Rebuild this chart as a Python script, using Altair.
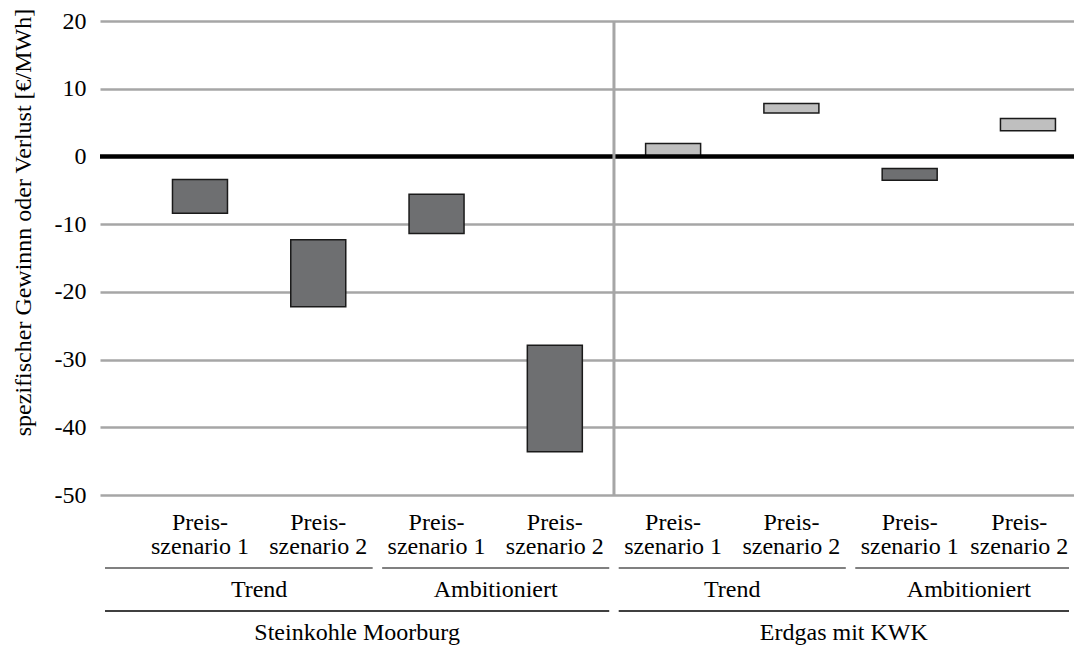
import altair as alt
import pandas as pd

# ---- data ----
kraftwerke = ["Steinkohle Moorburg", "Erdgas mit KWK"]
szenarien = ["Trend", "Ambitioniert"]
preis_zeile1 = ["Preis-", "Preis-"]
preis_zeile2 = ["szenario 1", "szenario 2"]
oben = [-3.4, -12.3, -5.6, -27.9, 1.9, 7.8, -1.8, 5.6]
unten = [-8.4, -22.2, -11.4, -43.6, 0.0, 6.4, -3.5, 3.8]
y_ticks = [-50, -40, -30, -20, -10, 0, 10, 20]
y_title = "spezifischer Gewinnn oder Verlust [€/MWh]"

FONT = "Liberation Serif"
FS = 24
XMIN, XMAX = -0.803, 7.347
GAP = 0.04
HALF_LABEL = 0.42  # half width of a category label, in category units

rows = []
for i in range(8):
    kw = i // 4
    sz = (i // 2) % 2
    ps = i % 2
    rows.append({
        "pos": i,
        "lx": min(i, XMAX - HALF_LABEL),
        "kraftwerk": kraftwerke[kw],
        "szenario": szenarien[sz],
        "z1": preis_zeile1[ps],
        "z2": preis_zeile2[ps],
        "oben": oben[i],
        "unten": unten[i],
        "art": "Verlust" if oben[i] < 0 else "Gewinn",
    })
df = pd.DataFrame(rows)

# level-1 groups (Szenario within Kraftwerk)
g1 = []
for (kw, sz), sub in df.groupby(["kraftwerk", "szenario"], sort=False):
    a = sub["pos"].min() - 0.5
    b = sub["pos"].max() + 0.5
    s = XMIN if a < 0 else a + GAP
    e = XMAX if b > 7 else b - GAP
    g1.append({"label": sz, "s": s, "e": e, "m": sub["pos"].mean()})
g1 = pd.DataFrame(g1)

g2 = []
for kw, sub in df.groupby("kraftwerk", sort=False):
    a = sub["pos"].min() - 0.5
    b = sub["pos"].max() + 0.5
    s = XMIN if a < 0 else a + GAP
    e = XMAX if b > 7 else b - GAP
    g2.append({"label": kw, "s": s, "e": e, "m": (s + e) / 2})
g2 = pd.DataFrame(g2)

sep = pd.DataFrame({"pos": [3.5]})
zero = pd.DataFrame({"v": [0]})

xscale = alt.Scale(domain=[XMIN, XMAX], nice=False, zero=False)
yscale = alt.Scale(domain=[-50, 20], nice=False)

base = alt.Chart(df)

bars = base.mark_bar(size=55, stroke="#1a1a1a", strokeWidth=1.5).encode(
    x=alt.X("pos:Q", scale=xscale, axis=None),
    y=alt.Y("oben:Q", scale=yscale,
            axis=alt.Axis(values=y_ticks, title=y_title, grid=True,
                          gridColor="#a6a6a6", gridWidth=2.5, domain=False,
                          ticks=False, labelPadding=14,
                          labelExpr="'' + datum.value",
                          titleX=-77, titleY=201, titleBaseline="middle",
                          titleAlign="center", titleAngle=-90)),
    y2="unten:Q",
    color=alt.Color("art:N", scale=alt.Scale(domain=["Verlust", "Gewinn"],
                                             range=["#6e6f71", "#bfbfbf"]),
                    legend=None),
)

zero_line = alt.Chart(zero).mark_rule(color="black", strokeWidth=4.5).encode(
    y=alt.Y("v:Q", scale=yscale))

sep_line = alt.Chart(sep).mark_rule(color="#a6a6a6", strokeWidth=3).encode(
    x=alt.X("pos:Q", scale=xscale))

t1 = base.mark_text(font=FONT, fontSize=FS, baseline="middle").encode(
    x=alt.X("lx:Q", scale=xscale), y=alt.value(502), text="z1:N")
t2 = base.mark_text(font=FONT, fontSize=FS, baseline="middle").encode(
    x=alt.X("lx:Q", scale=xscale), y=alt.value(526), text="z2:N")

l1 = alt.Chart(g1).mark_rule(color="#808080", strokeWidth=2).encode(
    x=alt.X("s:Q", scale=xscale), x2="e:Q", y=alt.value(547))
l1t = alt.Chart(g1).mark_text(font=FONT, fontSize=FS, baseline="middle").encode(
    x=alt.X("m:Q", scale=xscale), y=alt.value(569), text="label:N")
l2 = alt.Chart(g2).mark_rule(color="#404040", strokeWidth=2).encode(
    x=alt.X("s:Q", scale=xscale), x2="e:Q", y=alt.value(590))
l2t = alt.Chart(g2).mark_text(font=FONT, fontSize=FS, baseline="alphabetic").encode(
    x=alt.X("m:Q", scale=xscale), y=alt.value(619), text="label:N")

chart = alt.layer(bars, zero_line, sep_line, t1, t2, l1, l1t, l2, l2t).properties(
    width=974, height=474,
    padding={"left": 92, "top": 13, "right": 0, "bottom": 151},
    autosize=alt.AutoSizeParams(type="none"),
).configure_view(stroke=None).configure_axis(
    labelFont=FONT, labelFontSize=FS, labelColor="black",
    titleFont=FONT, titleFontSize=FS, titleFontWeight="normal", titleColor="black",
)

chart.save("out.html", embed_options={"renderer": "svg", "actions": False})
